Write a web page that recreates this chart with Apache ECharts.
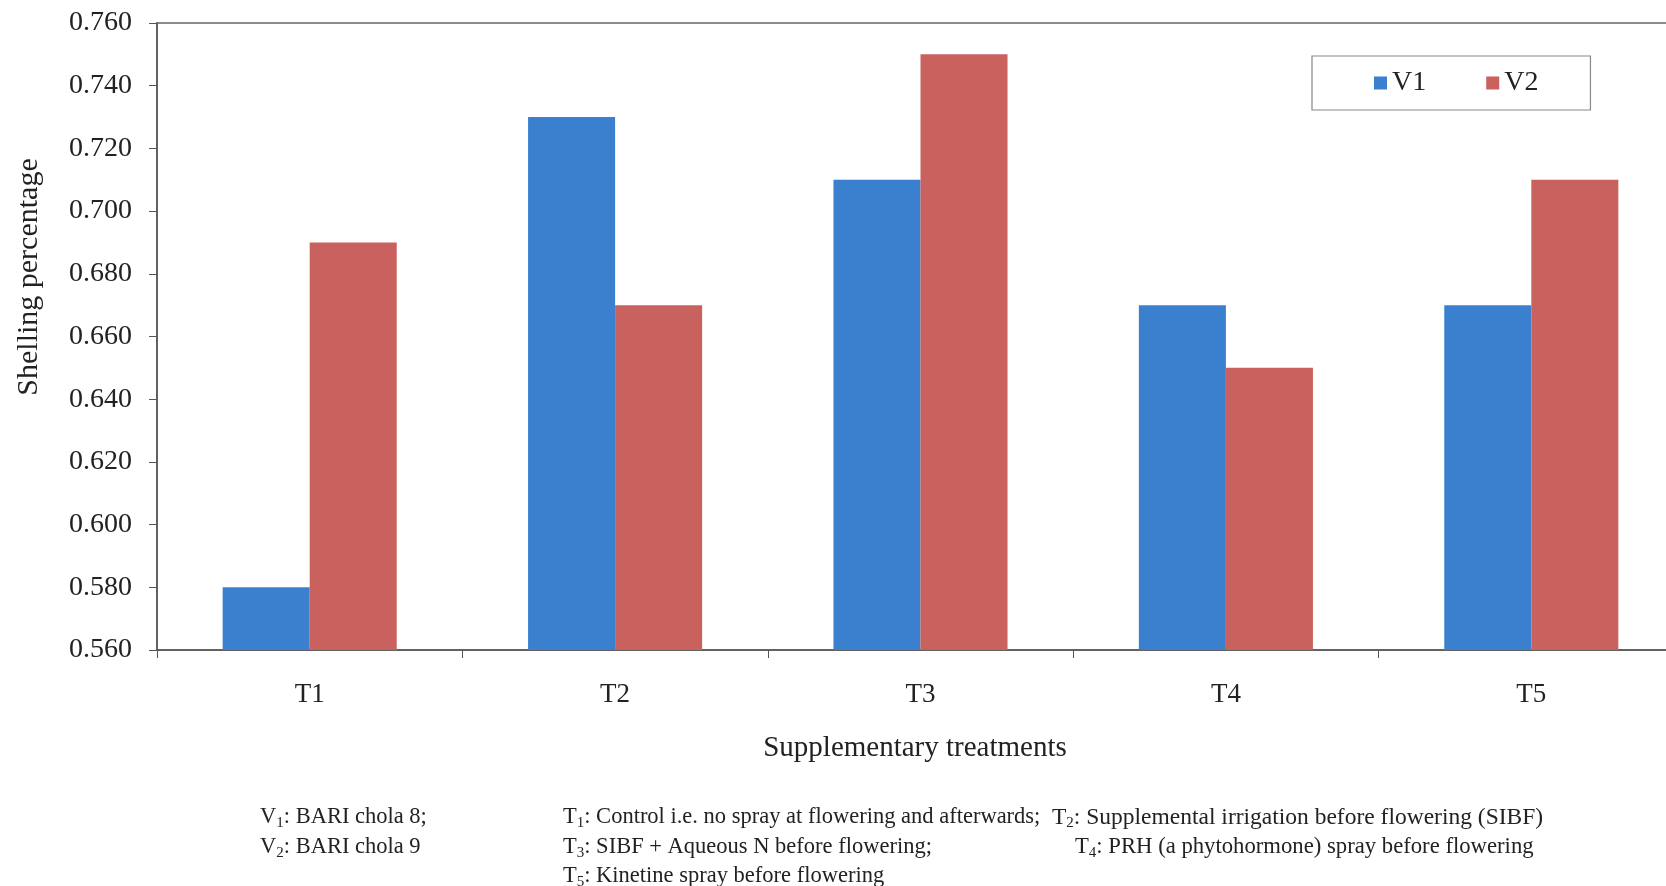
<!DOCTYPE html>
<html>
<head>
<meta charset="utf-8">
<title>Shelling percentage</title>
<script src="https://cdn.jsdelivr.net/npm/echarts@6/dist/echarts.min.js"></script>
<style>
  html, body { margin: 0; padding: 0; background: #ffffff; }
  #chart { width: 1666px; height: 886px; }
</style>
</head>
<body>
<div id="chart"></div>
<script>
// Treatments on the x axis
const categories = ['T1', 'T2', 'T3', 'T4', 'T5'];
// Shelling percentage per variety
const v1Values = [0.58, 0.73, 0.71, 0.67, 0.67];
const v2Values = [0.69, 0.67, 0.75, 0.65, 0.71];
const seriesNames = ['V1', 'V2'];

// Y axis range
const yMin = 0.56;
const yMax = 0.76;
const yStep = 0.02;

// Axis titles
const xTitle = 'Supplementary treatments';
const yTitle = 'Shelling percentage';

// Footnote lines: [prefix, subscript, rest]
const notesCol1 = [
  ['V', '1', ': BARI chola 8;'],
  ['V', '2', ': BARI chola 9']
];
const notesCol2 = [
  ['T', '1', ': Control i.e. no spray at flowering and afterwards;'],
  ['T', '3', ': SIBF + Aqueous N before flowering;'],
  ['T', '5', ': Kinetine spray before flowering']
];
const notesCol3 = [
  ['T', '2', ': Supplemental irrigation before flowering (SIBF)'],
  ['T', '4', ': PRH (a phytohormone) spray before flowering']
];

const FONT = '"Liberation Serif", "Times New Roman", serif';
const TEXT = '#222222';

const chart = echarts.init(document.getElementById('chart'), null, { renderer: 'canvas' });

function noteRich(size) {
  return {
    n: { fontFamily: FONT, fontSize: size, color: TEXT, lineHeight: 26, verticalAlign: 'middle' },
    s: { fontFamily: FONT, fontSize: 15, color: TEXT, lineHeight: 26, verticalAlign: 'bottom' }
  };
}

function noteText(item, x, y, size) {
  return {
    type: 'text',
    left: x,
    top: y,
    style: {
      text: '{n|' + item[0] + '}{s|' + item[1] + '}{n|' + item[2] + '}',
      rich: noteRich(size || 22.5),
      fill: TEXT
    }
  };
}

const graphics = [];
const rowY = [806, 836, 865];
notesCol1.forEach((it, i) => graphics.push(noteText(it, 260, rowY[i])));
notesCol2.forEach((it, i) => graphics.push(noteText(it, 563, rowY[i])));
graphics.push(noteText(notesCol3[0], 1052, rowY[0], 23.5));
graphics.push(noteText(notesCol3[1], 1075, rowY[1], 22.7));

// Axis titles
graphics.push({
  type: 'text',
  x: 915,
  y: 748,
  style: {
    text: xTitle,
    fontFamily: FONT,
    fontSize: 29,
    fill: TEXT,
    align: 'center',
    verticalAlign: 'middle'
  }
});
graphics.push({
  type: 'text',
  x: 29,
  y: 277,
  rotation: Math.PI / 2,
  style: {
    text: yTitle,
    fontFamily: FONT,
    fontSize: 30,
    fill: TEXT,
    align: 'center',
    verticalAlign: 'middle'
  }
});

chart.setOption({
  backgroundColor: '#ffffff',
  animation: false,
  color: ['#3a80cf', '#c9615e'],
  grid: {
    left: 157,
    top: 23,
    width: 1527,
    bottom: 236,
    containLabel: false,
    outerBoundsMode: 'none',
    show: true,
    borderColor: '#666666',
    borderWidth: 1.5,
    backgroundColor: 'transparent'
  },
  legend: {
    left: 1312,
    top: 56,
    orient: 'horizontal',
    icon: 'rect',
    itemWidth: 13,
    itemHeight: 13,
    itemGap: 60,
    padding: [13, 52, 13, 62],
    borderColor: '#888888',
    borderWidth: 1.2,
    backgroundColor: '#ffffff',
    textStyle: { fontFamily: FONT, fontSize: 28, color: TEXT },
    data: seriesNames
  },
  xAxis: {
    type: 'category',
    data: categories,
    boundaryGap: true,
    axisLine: { show: true, lineStyle: { color: '#555555', width: 1.5 } },
    axisTick: { show: true, length: 8, inside: false, lineStyle: { color: '#555555', width: 1 } },
    axisLabel: { fontFamily: FONT, fontSize: 27, color: TEXT, margin: 31 },
    splitLine: { show: false }
  },
  yAxis: {
    type: 'value',
    min: yMin,
    max: yMax,
    interval: yStep,
    axisLine: { show: true, lineStyle: { color: '#555555', width: 1.5 } },
    axisTick: { show: true, length: 8, inside: false, lineStyle: { color: '#555555', width: 1 } },
    axisLabel: {
      fontFamily: FONT,
      fontSize: 28,
      color: TEXT,
      margin: 25,
      formatter: v => v.toFixed(3)
    },
    splitLine: { show: false }
  },
  series: [
    {
      name: seriesNames[0],
      type: 'bar',
      data: v1Values,
      barGap: '0%',
      barCategoryGap: '43%'
    },
    {
      name: seriesNames[1],
      type: 'bar',
      data: v2Values,
      barGap: '0%',
      barCategoryGap: '43%'
    }
  ],
  graphic: graphics
});
</script>
</body>
</html>
